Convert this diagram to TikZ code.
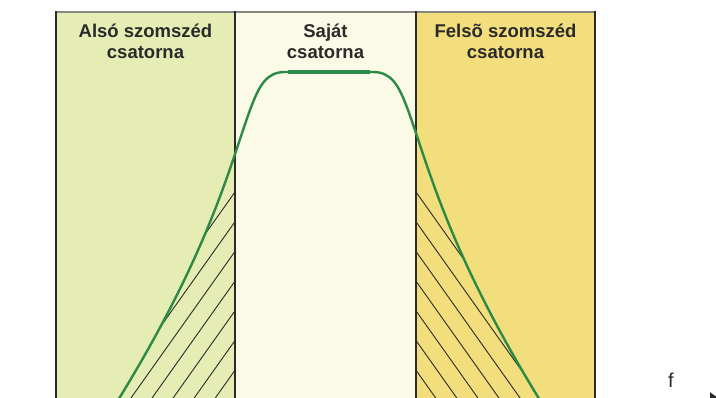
\documentclass[tikz,border=0pt]{standalone}
\usepackage{fontspec}
\setsansfont{Liberation Sans}
\usetikzlibrary{arrows.meta}

\definecolor{lowgreen}{RGB}{229,237,180}
\definecolor{owncream}{RGB}{251,250,231}
\definecolor{upyellow}{RGB}{242,222,124}
\definecolor{curvegreen}{RGB}{44,138,70}
\definecolor{edgegray}{RGB}{42,42,42}
\definecolor{topgray}{RGB}{135,135,128}

\begin{document}
\begin{tikzpicture}[x=1pt, y=-1pt]
  \sffamily
  \useasboundingbox (0,0) rectangle (716,397);
  \clip (0,0) rectangle (716,397);

  % =======================================================
  % PARAMETERS
  % =======================================================
  \def\Xa{56}    % left edge of the lower channel
  \def\Xb{235}   % lower / own channel border
  \def\Xc{416}   % own / upper channel border
  \def\Xd{595}   % right edge of the upper channel
  \def\Ytop{12}  % top edge
  \def\Ybot{420} % below the visible part
  \def\HatchGap{29.7} % vertical spacing of the hatching

  % =======================================================
  % 1. Channel bands
  % =======================================================
  \fill[lowgreen] (\Xa,\Ytop) rectangle (\Xb,\Ybot);
  \fill[owncream] (\Xb,\Ytop) rectangle (\Xc,\Ybot);
  \fill[upyellow] (\Xc,\Ytop) rectangle (\Xd,\Ybot);

  % =======================================================
  % 2. Hatching of the overlapping skirts
  % =======================================================
  \begin{scope}
      \clip (250,110) .. controls (230,165) and (210,250) .. (120,397)
            -- (110,420) -- (\Xb,\Ybot) -- (\Xb,110) -- cycle;
      \foreach \k in {0,...,7} {
          \draw[edgegray, line width=0.9] (\Xb, {192 + \HatchGap*\k}) -- ++(-110,155);
      }
  \end{scope}
  \begin{scope}
      \clip (408,110) .. controls (428,165) and (448,250) .. (538,397)
            -- (548,420) -- (\Xc,\Ybot) -- (\Xc,110) -- cycle;
      \foreach \k in {0,...,7} {
          \draw[edgegray, line width=0.9] (\Xc, {192 + \HatchGap*\k}) -- ++(110,155);
      }
  \end{scope}

  % =======================================================
  % 3. Channel borders
  % =======================================================
  \draw[topgray, line width=1.6] (\Xa,\Ytop) -- (\Xd,\Ytop);
  \foreach \xb in {\Xa,\Xb,\Xc,\Xd} {
      \draw[edgegray, line width=2.2] (\xb,11) -- (\xb,\Ybot);
  }

  % =======================================================
  % 4. Filter response
  % =======================================================
  \draw[curvegreen, line width=2.4]
      (110,413) -- (120,397)
      .. controls (210,250) and (230,165) .. (250,110)
      .. controls (259,86) and (266,72) .. (285,72)
      -- (373,72)
      .. controls (392,72) and (399,86) .. (408,110)
      .. controls (428,165) and (448,250) .. (538,397)
      -- (548,413);
  \draw[curvegreen, line width=3.8] (288,72) -- (370,72);

  % =======================================================
  % 5. Labels and frequency axis
  % =======================================================
  \begin{scope}[font=\fontsize{18.5}{21}\selectfont\bfseries, text=edgegray]
      \node[align=center, anchor=north, inner sep=0] (lowlabel) at (145.5,23.5) {Alsó szomszéd\\csatorna};
      \node[align=center, anchor=north, inner sep=0] (ownlabel) at (325.5,23.5) {Saját\\csatorna};
      \node[align=center, anchor=north, inner sep=0] (uplabel) at (505.5,23.5) {Felsõ szomszéd\\csatorna};
  \end{scope}

  \node[anchor=base, inner sep=0, text=edgegray, font=\fontsize{20}{24}\selectfont] (freq) at (671,387) {f};
  \coordinate (axisstart) at (\Xa,404);
  \coordinate (axisend) at (731,404);
  \draw[edgegray, line width=1.5, -{Latex[length=21, width=24]}] (axisstart) -- (axisend);

\end{tikzpicture}
\end{document}
